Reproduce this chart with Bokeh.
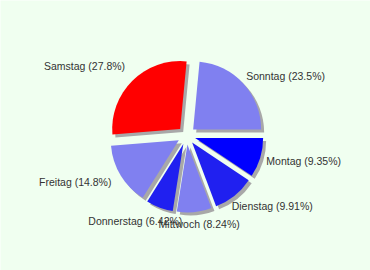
import math
from bokeh.plotting import figure
from bokeh.models import Range1d, ColumnDataSource
from bokeh.core.properties import value
from bokeh.embed import file_html
from bokeh.resources import INLINE

days = ["Montag", "Dienstag", "Mittwoch", "Donnerstag", "Freitag", "Samstag", "Sonntag"]
shares = [9.35, 9.91, 8.24, 6.42, 14.8, 27.8, 23.5]
labels = ["Montag (9.35%)", "Dienstag (9.91%)", "Mittwoch (8.24%)", "Donnerstag (6.42%)",
          "Freitag (14.8%)", "Samstag (27.8%)", "Sonntag (23.5%)"]
colors = ["#0000ff", "#2020f0", "#8080f0", "#2020f0", "#8080f0", "#ff0000", "#8080f0"]

# small pixel nudges for label placement (styling only)
label_nudge_x = [-1, 7, 0, -6, -3, -17, 6]
label_nudge_y = [-1, -1, -3, -1, -1, -4, 2]

W, H = 370, 270
cx, cy = 186, 135
R = 68
explode = 9
shadow = 3
label_r = 86
fs = 10.5
char_w = 5.1
line_h = 12

total = sum(shares)
starts, ends, xs, ys, lx, ly, xo, yo = [], [], [], [], [], [], [], []
cum = 0.0
for s, lab, nx, ny in zip(shares, labels, label_nudge_x, label_nudge_y):
    a1 = -cum / total * 2 * math.pi
    cum += s
    a0 = -cum / total * 2 * math.pi
    mid = (a0 + a1) / 2
    starts.append(a0)
    ends.append(a1)
    xs.append(cx + explode * math.cos(mid))
    ys.append(cy + explode * math.sin(mid))
    c, sn = math.cos(mid), math.sin(mid)
    lx.append(cx + label_r * c)
    ly.append(cy + label_r * sn)
    w = char_w * len(lab)
    xo.append(-w * (1 - c) / 2 + nx)
    yo.append(-line_h * (1 + sn) / 2 + ny)

src = ColumnDataSource(dict(x=xs, y=ys, sx=[x + shadow for x in xs], sy=[y - shadow for y in ys],
                            start=starts, end=ends, color=colors))
lsrc = ColumnDataSource(dict(x=lx, y=ly, text=labels, xo=xo, yo=yo))

p = figure(width=W, height=H, output_backend="svg", toolbar_location=None,
           x_range=Range1d(0, W), y_range=Range1d(0, H), min_border=0,
           background_fill_color="#f0fff0", border_fill_color="#f0fff0",
           outline_line_color=None)
p.axis.visible = False
p.grid.visible = False

p.wedge(x="sx", y="sy", radius=R, start_angle="start", end_angle="end",
        fill_color="#a8a8a8", line_color=None, source=src)
p.wedge(x="x", y="y", radius=R, start_angle="start", end_angle="end",
        fill_color="color", line_color=None, source=src)
p.text(x="x", y="y", text="text", x_offset="xo", y_offset="yo", source=lsrc,
       text_font=value("Liberation Sans"), text_font_size=f"{fs}px",
       text_color="#333333", text_align="left", text_baseline="top")

open("out.html", "w").write(file_html(p, INLINE))
